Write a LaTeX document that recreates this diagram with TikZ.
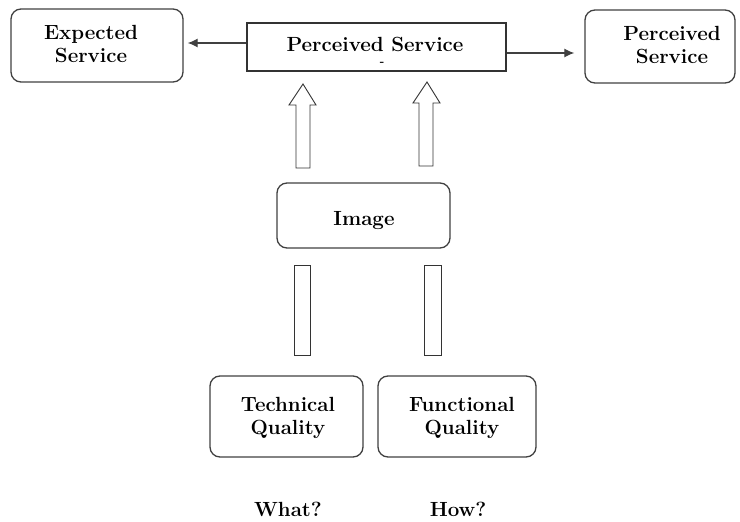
\documentclass[tikz,border=0pt]{standalone}
\usetikzlibrary{arrows.meta}
\begin{document}
\begin{tikzpicture}[x=1pt,y=-1pt,
  rbox/.style={draw=black!75,line width=1.3pt,rounded corners=10pt,inner sep=0pt},
  sbox/.style={draw=black!80,line width=1.1pt,inner sep=0pt},
  lbl/.style={font=\fontsize{20.5}{23}\selectfont\bfseries,align=center,inner sep=0pt},
  conn/.style={draw=black!75,line width=1.2pt,-{Latex[length=10pt,width=9pt]}},
  hollow/.style={draw=black!80,line width=0.9pt,fill=white}]
\useasboundingbox (0,0) rectangle (740,522);
% boxes
\node[rbox,minimum width=172pt,minimum height=73pt] (exp) at (97,45.5) {};
\node[lbl] (expt) at (91,44) {Expected\\Service};
\node[sbox,minimum width=259pt,minimum height=48pt] (ps) at (376.5,47) {};
\node[lbl] (pst) at (375,44) {Perceived Service};
\node[lbl,font=\fontsize{12}{14}\selectfont\bfseries] (psd) at (382,64) {-};
\node[rbox,minimum width=150pt,minimum height=73pt] (pr) at (660,46.5) {};
\node[lbl] (prt) at (672,45) {Perceived\\Service};
\node[rbox,minimum width=173pt,minimum height=65pt] (img) at (363.5,215.5) {};
\node[lbl] (imgt) at (364,221) {Image};
\node[rbox,minimum width=153pt,minimum height=81pt] (tq) at (286.5,416.5) {};
\node[lbl] (tqt) at (288,418) {Technical\\Quality};
\node[rbox,minimum width=158pt,minimum height=81pt] (fq) at (457,416.5) {};
\node[lbl] (fqt) at (462,418) {Functional\\Quality};
\node[lbl] (what) at (288,509) {What?};
\node[lbl] (how) at (458,509) {How?};
% connectors
\coordinate (pl) at (ps.west |- 0,43);
\coordinate (el) at (exp.east |- 0,43);
\draw[conn,shorten >=4pt] (pl) -- (el);
\coordinate (pr1) at (ps.east |- 0,53);
\coordinate (pr2) at (pr.west |- 0,53);
\draw[conn,shorten >=10pt] (pr1) -- (pr2);
% hollow up arrows
\draw[hollow] (296,168) -- (296,105) -- (289,105) -- (303,84) -- (316,105) -- (310,105) -- (310,168) -- cycle;
\draw[hollow] (419,166) -- (419,103) -- (413,103) -- (427,82) -- (440,103) -- (433,103) -- (433,166) -- cycle;
% bars
\draw[hollow] (294,265) rectangle (310,355);
\draw[hollow] (424,265) rectangle (441,355);
\end{tikzpicture}
\end{document}
